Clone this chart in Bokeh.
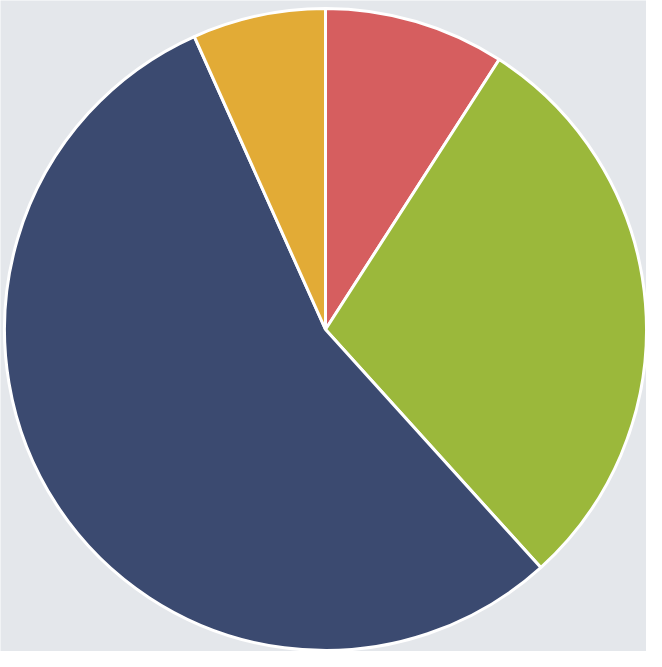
import numpy as np
from bokeh.plotting import figure
from bokeh.models import ColumnDataSource, Range1d
from bokeh.embed import file_html
from bokeh.resources import INLINE

# Data (clockwise from 12 o'clock)
categories = ["Red", "Green", "Navy", "Yellow"]
values = [9.1, 29.2, 55.0, 6.7]
colors = ["#d65e5f", "#9bb83b", "#3b4a70", "#e2ab36"]

vals = np.array(values, dtype=float)
frac = vals / vals.sum()
cum = np.concatenate([[0], np.cumsum(frac)])
start = np.pi / 2 - 2 * np.pi * cum[:-1]
end = np.pi / 2 - 2 * np.pi * cum[1:]

W, H = 646, 651
p = figure(width=W, height=H, output_backend="svg", toolbar_location=None,
           x_range=Range1d(0, W), y_range=Range1d(0, H), min_border=0)
p.axis.visible = False
p.grid.visible = False
p.outline_line_color = None
p.background_fill_color = "#e4e7eb"
p.border_fill_color = "#e4e7eb"

src = ColumnDataSource(dict(cat=categories, start=start, end=end, color=colors))
p.wedge(x=325, y=322, radius=321, start_angle="start", end_angle="end",
        direction="clock", fill_color="color", line_color="white", line_width=3,
        source=src)

open("out.html", "w").write(file_html(p, INLINE))
